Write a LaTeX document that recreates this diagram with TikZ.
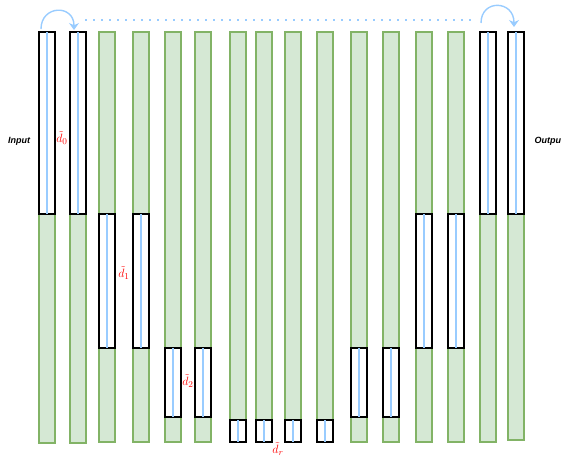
\documentclass[tikz,border=0pt]{standalone}
\usepackage{fontspec}
\setsansfont{Liberation Sans}
\usetikzlibrary{arrows.meta}
\definecolor{gfill}{HTML}{D5E8D4}
\definecolor{gline}{HTML}{82B366}
\definecolor{bline}{HTML}{99CCFF}
\tikzset{
  gbar/.style={draw=gline, fill=gfill, line width=1.2pt, inner sep=0pt, outer sep=0pt, minimum width=16pt},
  wbox/.style={draw=black, fill=white, line width=1.2pt, inner sep=0pt, outer sep=0pt, minimum width=16pt},
  midline/.style={draw=bline, line width=1.1pt},
  lbl/.style={text=red, inner sep=0pt, font=\fontsize{13}{15}\selectfont},
  sidetxt/.style={font=\sffamily\bfseries\itshape\fontsize{9}{11}\selectfont},
  loopar/.style={draw=bline, line width=1.4pt, -{Stealth[length=7pt,width=10pt]}},
  dotline/.style={draw=bline, line width=1.8pt, dash pattern=on 1.8pt off 6.2pt}
}
\begin{document}
\begin{tikzpicture}[x=1pt,y=-1pt]
\useasboundingbox (0,0) rectangle (561,455);
% green bars: center x, bottom y
\foreach \i/\x/\b in {1/47/443,2/78/443,3/107/442,4/141/442,5/173/442,6/203/442,7/238/442,8/264/442,9/293/442,10/325/442,11/359/442,12/391/442,13/424/442,14/456/442,15/488/442,16/516/440}{
  \node[gbar, minimum height={\b-32}, anchor=north] (g\i) at (\x,32) {};
}
% white boxes: bar index, center x, top, bottom
\foreach \i/\x/\t/\bb in {1/47/32/214,2/78/32/214,3/107/214/348,4/141/214/348,5/173/348/417,6/203/348/417,7/238/420/442,8/264/420/442,9/293/420/442,10/325/420/442,11/359/348/417,12/391/348/417,13/424/214/348,14/456/214/348,15/488/32/214,16/516/32/214}{
  \node[wbox, minimum height={\bb-\t}, anchor=north] (w\i) at (\x,\t) {};
  \draw[midline] (w\i.north) -- (w\i.south);
}
% labels
\node[lbl] (l0) at (62,138) {$\tilde{d}_0$};
\node[lbl] (l1) at (124,273) {$\tilde{d}_1$};
\node[lbl] (l2) at (188,381) {$\tilde{d}_2$};
\node[lbl] (lr) at (278,449) {$\tilde{d}_r$};
\node[sidetxt] (inp) at (19,141) {Input};
\node[sidetxt, anchor=west] (outp) at (531,141) {Output};
% loop arrows and dotted line
\coordinate (a1) at (41,29);
\coordinate (a2) at (74,30);
\coordinate (c1) at (481,23);
\coordinate (c2) at (514,27);
\coordinate (d1) at (85,20);
\coordinate (d2) at (472,20);
\draw[loopar] (a1) .. controls (41,5) and (74,4) .. (a2);
\draw[loopar] (c1) .. controls (481,-1) and (514,0) .. (c2);
\draw[dotline] (d1) -- (d2);
\end{tikzpicture}
\end{document}
